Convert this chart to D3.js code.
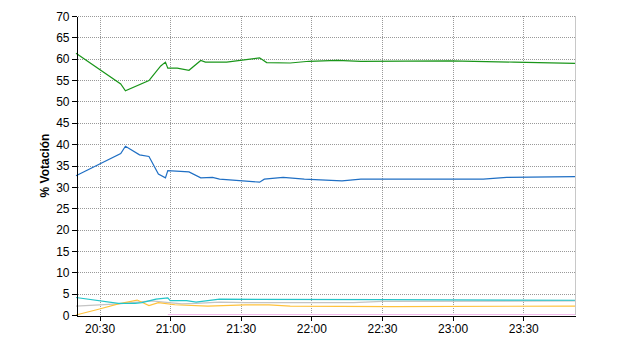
<!DOCTYPE html>
<html>
<head>
<meta charset="utf-8">
<script src="https://cdn.jsdelivr.net/npm/d3@7"></script>
<style>
  body { margin: 0; background: #fff; }
  svg { display: block; font-family: Arial, "Liberation Sans", sans-serif; }
  .grid line { stroke: #999; stroke-dasharray: 1,1; shape-rendering: crispEdges; }
  .axis path, .axis line { stroke: #000; shape-rendering: crispEdges; }
  .axis text { font-size: 12px; fill: #000; }
</style>
</head>
<body>
<div id="chart"></div>
<script>
// ── Data (time "HH:MM", % vote) ─────────────────────────────────────────────
const greenT = ['20:20','20:39','20:41','20:51','20:52','20:56','20:58','20:59','21:03','21:08','21:13','21:15','21:24','21:38','21:41','21:51','21:59','22:11','22:21','22:59','23:26','23:52'];
const greenV = [61.3, 54.1, 52.5, 54.9, 55.6, 58.3, 59.2, 57.8, 57.8, 57.3, 59.6, 59.2, 59.2, 60.2, 59.1, 59.0, 59.4, 59.6, 59.4, 59.5, 59.2, 58.9];

const blueT = ['20:20','20:39','20:41','20:47','20:51','20:55','20:58','20:59','21:08','21:13','21:18','21:21','21:38','21:40','21:48','21:57','22:13','22:21','23:13','23:23','23:52'];
const blueV = [32.6, 37.8, 39.5, 37.5, 37.1, 33.0, 32.1, 33.8, 33.5, 32.1, 32.2, 31.8, 31.1, 31.8, 32.2, 31.8, 31.4, 31.8, 31.8, 32.2, 32.4];

const grayT = ['20:20','20:38','20:52','21:05','21:11','21:21','21:32','22:18','22:30','23:52'];
const grayV = [2.1, 2.6, 3.3, 2.6, 2.7, 3.0, 2.9, 2.9, 3.2, 3.3];

const orangeT = ['20:20','20:30','20:38','20:46','20:51','20:55','21:02','21:16','21:32','21:42','21:51','22:34','23:52'];
const orangeV = [0, 1.4, 2.6, 3.5, 2.2, 2.9, 2.4, 2.1, 2.35, 2.35, 2.1, 1.95, 2.1];

const cyanT = ['20:20','20:38','20:45','20:48','20:54','20:59','21:00','21:07','21:11','21:21','22:30','23:52'];
const cyanV = [4.1, 2.7, 2.7, 2.9, 3.7, 4.0, 3.35, 3.35, 3.0, 3.7, 3.6, 3.45];

const pinkT = ['20:59','23:52'];
const pinkV = [0.1, 0.1];

const xTicks = ['20:30','21:00','21:30','22:00','22:30','23:00','23:30'];
const yTicks = d3.range(0, 71, 5);

// ── Layout ──────────────────────────────────────────────────────────────────
const W = 640, H = 350;
const m = { left: 76, right: 65, top: 16, bottom: 35 };
const parse = d3.timeParse('%H:%M');

const svg = d3.select('#chart').append('svg').attr('width', W).attr('height', H);

const x = d3.scaleTime()
  .domain([parse('20:20'), parse('23:52')])
  .range([m.left, W - m.right]);
const y = d3.scaleLinear()
  .domain([0, 70])
  .range([H - m.bottom, m.top]);

// ── Grid ────────────────────────────────────────────────────────────────────
const grid = svg.append('g').attr('class', 'grid');
grid.selectAll('line.h').data(yTicks.filter(v => v > 0))
  .join('line').attr('class', 'h')
    .attr('x1', m.left).attr('x2', W - m.right)
    .attr('y1', d => Math.round(y(d)) + 0.5).attr('y2', d => Math.round(y(d)) + 0.5);
grid.selectAll('line.v').data(xTicks.map(parse))
  .join('line').attr('class', 'v')
    .attr('x1', d => Math.round(x(d)) + 0.5).attr('x2', d => Math.round(x(d)) + 0.5)
    .attr('y1', m.top).attr('y2', H - m.bottom);
// right border
svg.append('line')
  .attr('x1', W - m.right + 0.5).attr('x2', W - m.right + 0.5)
  .attr('y1', m.top).attr('y2', H - m.bottom)
  .attr('stroke', '#c8c8c8').attr('shape-rendering', 'crispEdges');

// ── Series ──────────────────────────────────────────────────────────────────
const line = d3.line().x(d => x(d[0])).y(d => y(d[1]));
const series = [
  { t: pinkT,   v: pinkV,   c: '#f2b6ea', w: 1 },
  { t: grayT,   v: grayV,   c: '#c4c4c4', w: 1.2 },
  { t: orangeT, v: orangeV, c: '#ffc23c', w: 1.2 },
  { t: cyanT,   v: cyanV,   c: '#22c4c8', w: 1.2 },
  { t: blueT,   v: blueV,   c: '#1f6fc4', w: 1.2 },
  { t: greenT,  v: greenV,  c: '#1a961a', w: 1.2 }
];
series.forEach(s => {
  svg.append('path')
    .datum(s.t.map((t, i) => [parse(t), s.v[i]]))
    .attr('fill', 'none')
    .attr('stroke', s.c)
    .attr('stroke-width', s.w)
    .attr('d', line);
});

// ── Axes ────────────────────────────────────────────────────────────────────
svg.append('g').attr('class', 'axis')
  .attr('transform', `translate(${m.left + 0.5},0)`)
  .call(d3.axisLeft(y).tickValues(yTicks).tickSize(5).tickPadding(2).tickSizeOuter(0))
  .call(g => g.selectAll('text').attr('dy', '0.35em'));

svg.append('g').attr('class', 'axis')
  .attr('transform', `translate(0,${H - m.bottom + 0.5})`)
  .call(d3.axisBottom(x).tickValues(xTicks.map(parse)).tickFormat(d3.timeFormat('%H:%M'))
    .tickSize(5).tickPadding(4).tickSizeOuter(0));

svg.append('text')
  .attr('transform', `translate(49,${(m.top + H - m.bottom) / 2}) rotate(-90)`)
  .attr('text-anchor', 'middle')
  .attr('font-size', 12)
  .attr('font-weight', 'bold')
  .text('% Votación');
</script>
</body>
</html>
